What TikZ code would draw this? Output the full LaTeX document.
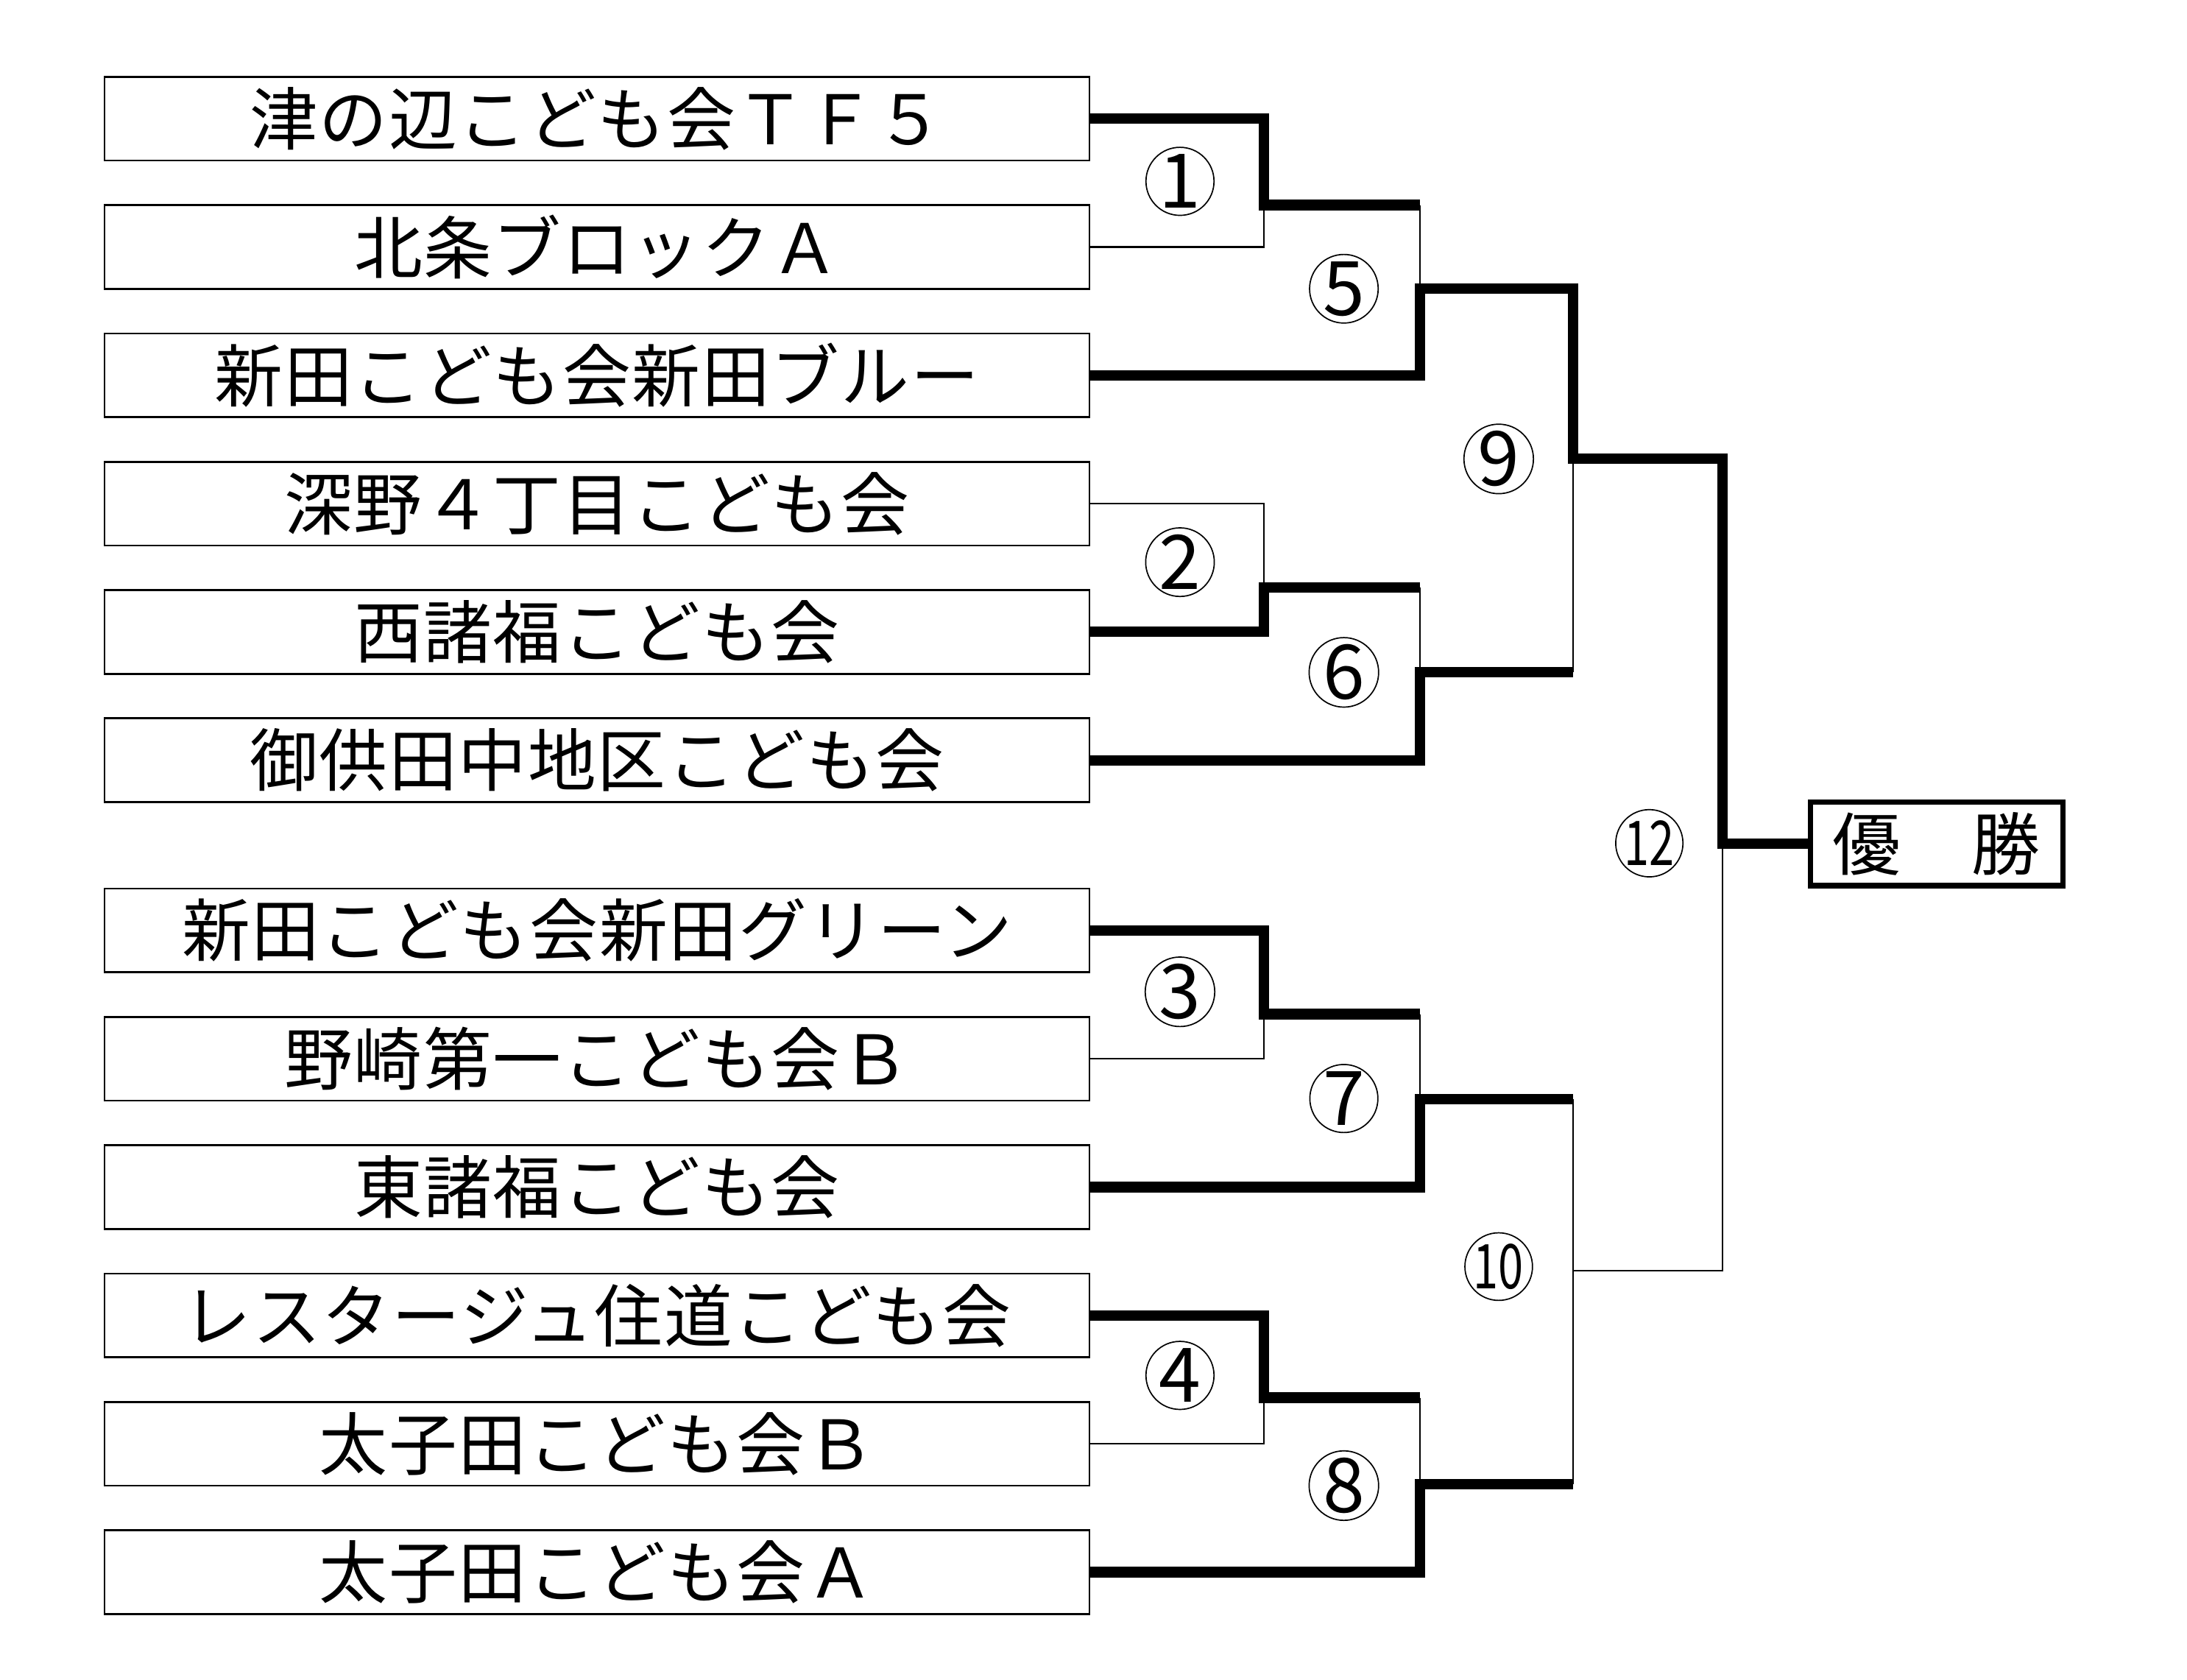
\documentclass[tikz,border=0pt]{standalone}
\usepackage{fontspec}
\usepackage{graphicx}
\newfontfamily\jpfont[LetterSpace=1.8]{Noto Sans CJK JP}
\newfontfamily\numfont{Noto Sans CJK JP}

\tikzset{
    teambox/.style={draw, line width=0.7pt, minimum width=353pt, minimum height=30pt,
        inner sep=0pt, font=\jpfont\fontsize{24.5}{26}\selectfont},
    winbox/.style={draw, line width=2pt, minimum width=90.5pt, minimum height=30pt,
        inner sep=0pt, font=\jpfont\fontsize{24.5}{26}\selectfont},
    badge/.style={draw, circle, line width=0.45pt, minimum size=24pt, inner sep=0pt,
        font=\numfont\fontsize{27}{27}\selectfont},
    winline/.style={line width=3.75pt, line join=miter},
    loseline/.style={line width=0.6pt}
}

\begin{document}
\begin{tikzpicture}[x=0.5pt, y=-0.5pt]
    \useasboundingbox (0,0) rectangle (1568,1204);

    % チーム
    \foreach \i/\y/\name in {1/85/津の辺こども会ＴＦ５, 2/177/北条ブロックＡ,
        3/269/新田こども会新田ブルー, 4/361/深野４丁目こども会, 5/453/西諸福こども会,
        6/545/御供田中地区こども会, 7/667/新田こども会新田グリーン,
        8/759/野崎第一こども会Ｂ, 9/851/東諸福こども会, 10/943/レスタージュ住道こども会,
        11/1035/太子田こども会Ｂ, 12/1127/太子田こども会Ａ} {
        \node[teambox] (t\i) at (428,\y) {\name};
    }

    % 優勝
    \node[winbox] (win) at (1388.5,605) {優　勝};

    % 分岐点
    \foreach \m/\x/\y in {1/906/147, 2/906/421, 3/906/727, 4/906/1002,
        5/1018/207, 6/1018/482, 7/1018/788, 8/1018/1064,
        9/1128/329, 10/1128/911, 12/1235/605} {
        \coordinate (m\m) at (\x,\y);
    }

    % 細線
    \draw[loseline] (t2.east) -| (m1);
    \draw[loseline] (m1 -| m5) -- (m5);
    \draw[loseline] (t4.east) -| (m2);
    \draw[loseline] (m2 -| m6) -- (m6);
    \draw[loseline] (m9) -- (m6 -| m9);
    \draw[loseline] (t8.east) -| (m3);
    \draw[loseline] (m3 -| m7) -- (m7);
    \draw[loseline] (m7 -| m10) -- (m8 -| m10);
    \draw[loseline] (m10) -| (m12);
    \draw[loseline] (t11.east) -| (m4);
    \draw[loseline] (m4 -| m8) -- (m8);

    % 勝ち上がり
    \draw[winline] (t1.east) -| (m1) -- (m1 -| m5);
    \draw[winline] (t3.east) -| (m5) -| (m9) -| (m12) -- (win.west);
    \draw[winline] (t5.east) -| (m2) -- (m2 -| m6);
    \draw[winline] (t6.east) -| (m6) -- (m6 -| m9);
    \draw[winline] (t7.east) -| (m3) -- (m3 -| m7);
    \draw[winline] (t9.east) -| (m7) -- (m7 -| m10);
    \draw[winline] (t10.east) -| (m4) -- (m4 -| m8);
    \draw[winline] (t12.east) -| (m8) -- (m8 -| m10);

    % 試合番号
    \foreach \n/\x/\y in {1/846/130, 2/846/403, 3/846/711, 4/846/986,
        5/963.5/207, 6/963.5/482, 7/963.5/787.5, 8/963.5/1065, 9/1074.5/329} {
        \node[badge] (r\n) at (\x,\y) {\n};
    }
    \node[badge] (r10) at (1074.5,908) {\scalebox{0.6}[0.82]{10}};
    \node[badge] (r12) at (1182.5,604.5) {\scalebox{0.6}[0.82]{12}};
\end{tikzpicture}
\end{document}
